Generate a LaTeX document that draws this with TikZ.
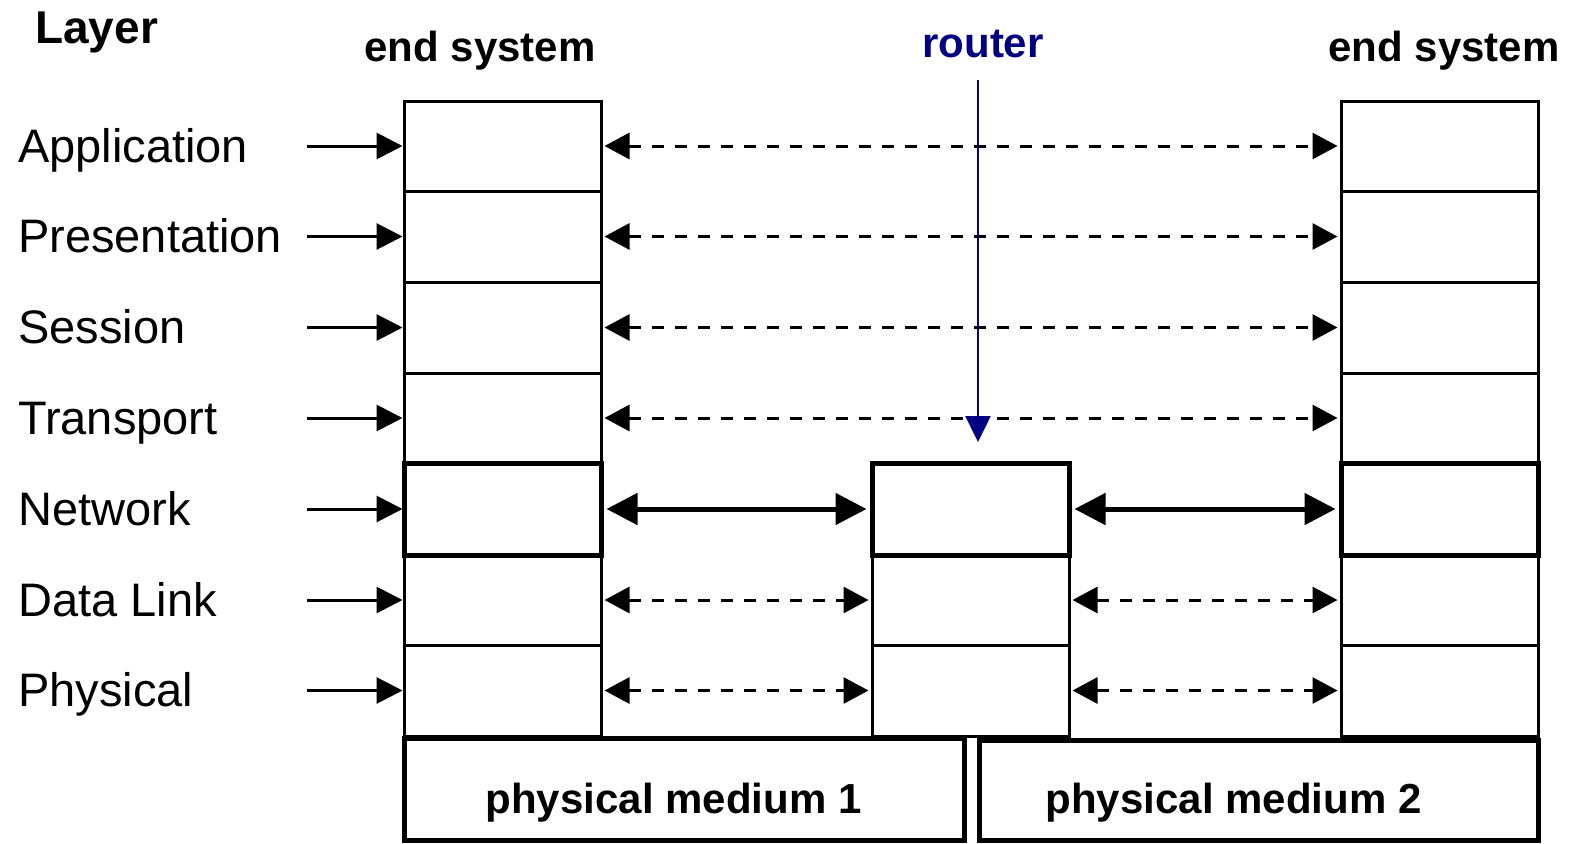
\documentclass[tikz,border=0pt]{standalone}
\usepackage{fontspec}
\setmainfont{Liberation Sans}
\usetikzlibrary{arrows.meta}
\definecolor{routerblue}{RGB}{0,0,128}
\begin{document}
\begin{tikzpicture}[x=1pt,y=-1pt,
  cell/.style={draw,line width=3pt,rectangle,inner sep=0pt,minimum width=197pt},
  netcell/.style={cell,line width=5pt},
  medium/.style={draw,line width=5pt,rectangle,inner sep=0pt},
  layerlbl/.style={anchor=base west,inner sep=0pt,font=\fontsize{47}{56}\selectfont},
  headlbl/.style={anchor=base,inner sep=0pt,font=\fontsize{42}{50}\selectfont\bfseries},
  inarrow/.style={line width=3pt,-{Triangle[length=26pt,width=26pt]}},
  peer/.style={line width=3pt,dash pattern=on 12pt off 11pt,
    {Triangle[length=25pt,width=26pt]}-{Triangle[length=25pt,width=26pt]},
    shorten <=2pt,shorten >=2pt},
  netpeer/.style={line width=5pt,
    {Triangle[length=31pt,width=31pt]}-{Triangle[length=31pt,width=31pt]},
    shorten <=3pt,shorten >=3pt}]
\useasboundingbox (0,0) rectangle (1570,843);

% headings
\node[anchor=base west,inner sep=0pt,font=\fontsize{46}{54}\selectfont\bfseries] (hlayer) at (35,44) {Layer};
\node[headlbl] (hend1) at (480,62) {end system};
\node[headlbl] (hend2) at (1444,62) {end system};
\node[headlbl,text=routerblue] (hrouter) at (983,57) {router};

% layer rows: name / top / bottom
\foreach \i/\lbl/\ta/\tb in {1/Application/101/191,2/Presentation/191/282,
    3/Session/282/373,4/Transport/373/463,5/Network/463/555,
    6/Data Link/555/645,7/Physical/645/736}{
  \pgfmathsetmacro{\yc}{(\ta+\tb)/2}
  \pgfmathsetmacro{\hh}{\tb-\ta}
  \node[layerlbl] (lbl\i) at (18,\yc+16) {\lbl};
  \node[cell,minimum height=\hh pt] (L\i) at (502.5,\yc) {};
  \node[cell,minimum height=\hh pt] (R\i) at (1439.5,\yc) {};
  \coordinate (in\i) at (307,\yc);
}
% router stack (network, data link, physical)
\foreach \i/\ta/\tb in {5/463/555,6/555/645,7/645/736}{
  \pgfmathsetmacro{\yc}{(\ta+\tb)/2}
  \pgfmathsetmacro{\hh}{\tb-\ta}
  \node[cell,minimum height=\hh pt] (M\i) at (970.5,\yc) {};
}
% network layer boxes drawn heavy on top
\node[netcell,minimum height=92pt] (L5n) at (L5) {};
\node[netcell,minimum height=92pt] (R5n) at (R5) {};
\node[netcell,minimum height=92pt] (M5n) at (M5) {};

% physical media
\node[medium,minimum width=560pt,minimum height=102pt] (med1) at (684,789) {};
\node[anchor=base,inner sep=0pt,font=\fontsize{42}{50}\selectfont\bfseries] (med1t) at (673.5,813) {physical medium 1};
\node[medium,minimum width=559pt,minimum height=100pt] (med2) at (1258.5,790) {};
\node[anchor=base,inner sep=0pt,font=\fontsize{42}{50}\selectfont\bfseries] (med2t) at (1233.5,813) {physical medium 2};

% layer entry arrows
\foreach \i in {1,...,7}{
  \draw[inarrow] (in\i) -- (L\i.west);
}
% end-to-end peer protocols
\foreach \i in {1,...,4}{
  \draw[peer] (L\i.east) -- (R\i.west);
}
% hop-by-hop network layer
\draw[netpeer] (L5n.east) -- (M5n.west);
\draw[netpeer] (M5n.east) -- (R5n.west);
% hop-by-hop data link and physical
\foreach \i in {6,7}{
  \draw[peer] (L\i.east) -- (M\i.west);
  \draw[peer] (M\i.east) -- (R\i.west);
}

% router pointer
\coordinate (rtail) at (978,80);
\coordinate (rtip) at (978,442);
\draw[routerblue,line width=2.5pt,-{Triangle[length=26pt,width=25pt]}] (rtail) -- (rtip);
\end{tikzpicture}
\end{document}
